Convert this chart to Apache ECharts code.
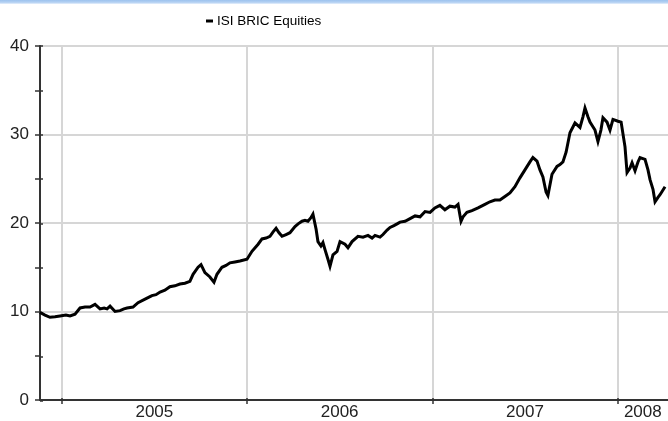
<!DOCTYPE html>
<html>
<head>
<meta charset="utf-8">
<script src="https://cdn.jsdelivr.net/npm/echarts@6/dist/echarts.min.js"></script>
<style>
html,body{margin:0;padding:0;background:#fff;}
#chart{width:668px;height:421px;}
</style>
</head>
<body>
<div id="chart"></div>
<script>
// Data (x in decimal years)
var seriesName = 'ISI BRIC Equities';
var dates = [
2004.883,2004.910,2004.937,2004.964,2004.991,2005.023,2005.045,2005.072,2005.099,2005.126,
2005.153,2005.180,2005.207,2005.229,2005.245,2005.261,2005.288,2005.315,2005.336,2005.353,
2005.385,2005.412,2005.450,2005.487,2005.509,2005.531,2005.557,2005.584,2005.611,2005.638,
2005.665,2005.692,2005.709,2005.736,2005.752,2005.773,2005.800,2005.822,2005.838,2005.865,
2005.887,2005.908,2005.935,2005.962,2006.000,2006.027,2006.060,2006.081,2006.103,2006.124,
2006.141,2006.157,2006.173,2006.189,2006.211,2006.232,2006.259,2006.276,2006.297,2006.313,
2006.329,2006.345,2006.356,2006.373,2006.383,2006.399,2006.410,2006.421,2006.437,2006.448,
2006.464,2006.486,2006.502,2006.529,2006.545,2006.567,2006.599,2006.626,2006.653,2006.675,
2006.691,2006.718,2006.734,2006.756,2006.772,2006.793,2006.810,2006.826,2006.853,2006.880,
2006.907,2006.934,2006.961,2006.988,2007.014,2007.041,2007.068,2007.095,2007.122,2007.139,
2007.155,2007.166,2007.187,2007.214,2007.247,2007.284,2007.311,2007.338,2007.365,2007.392,
2007.419,2007.446,2007.473,2007.500,2007.527,2007.543,2007.565,2007.581,2007.597,2007.614,
2007.624,2007.646,2007.673,2007.689,2007.705,2007.722,2007.743,2007.770,2007.797,2007.813,
2007.824,2007.840,2007.851,2007.878,2007.894,2007.910,2007.921,2007.943,2007.959,2007.975,
2008.002,2008.019,2008.029,2008.040,2008.051,2008.067,2008.078,2008.094,2008.110,2008.121,
2008.148,2008.164,2008.175,2008.191,2008.202,2008.218,2008.229,2008.256
];
var values = [
9.9,9.6,9.35,9.4,9.5,9.6,9.5,9.7,10.4,10.5,
10.5,10.8,10.3,10.4,10.3,10.6,10.0,10.1,10.3,10.4,
10.5,11.0,11.4,11.8,11.9,12.2,12.4,12.8,12.9,13.1,
13.2,13.4,14.2,15.0,15.3,14.4,13.9,13.3,14.2,15.0,
15.2,15.5,15.6,15.7,15.9,16.8,17.6,18.2,18.3,18.5,
19.0,19.4,18.9,18.5,18.7,18.9,19.6,19.9,20.2,20.3,
20.2,20.6,21.0,19.3,17.9,17.4,17.8,17.0,15.9,15.1,
16.4,16.8,17.9,17.6,17.2,17.9,18.5,18.4,18.6,18.3,
18.6,18.4,18.7,19.2,19.5,19.7,19.9,20.1,20.2,20.5,
20.8,20.7,21.3,21.2,21.7,22.0,21.5,21.9,21.8,22.1,
20.2,20.7,21.2,21.4,21.7,22.1,22.4,22.6,22.6,23.0,
23.4,24.1,25.1,26.0,26.9,27.4,27.0,26.0,25.2,23.5,
23.1,25.5,26.4,26.6,26.9,28.0,30.2,31.3,30.8,32.0,
33.0,32.0,31.4,30.5,29.2,30.5,31.9,31.4,30.5,31.7,
31.5,31.4,31.3,28.6,25.7,26.2,26.8,25.9,26.9,27.4,
27.2,26.0,24.9,23.8,22.4,22.9,23.2,24.1
];
var xMin = 2004.883, xMax = 2008.272;
var yearTicks = [2005, 2006, 2007, 2008];
var yearLabelPos = [2005.5, 2006.5, 2007.5, 2008.136];
var yMin = 0, yMax = 40, yStep = 10;

var pts = dates.map(function (d, i) { return [d, values[i]]; });
var font = 'Liberation Sans, Arial, sans-serif';
var axisColor = '#333';
var gridColor = '#d6d6d6';
var gridBox = {left: 40, right: 0, top: 46, bottom: 20, containLabel: false};

var chart = echarts.init(document.getElementById('chart'), null, {renderer: 'canvas'});
chart.setOption({
  animation: false,
  backgroundColor: '#fff',
  graphic: [{
    type: 'rect', left: 0, top: 0, shape: {width: 668, height: 4}, silent: true,
    style: {fill: new echarts.graphic.LinearGradient(0, 0, 0, 1, [
      {offset: 0, color: '#9cc2ee'}, {offset: 0.6, color: '#b6d2f3'}, {offset: 1, color: '#e8f1fc'}])}
  }],
  legend: {
    left: 206, top: 14, itemWidth: 7, itemHeight: 3, itemGap: 5, padding: 0,
    icon: 'rect',
    textStyle: {fontFamily: font, fontSize: 13.5, color: '#000', padding: [0, 0, 0, -1]},
    data: [seriesName]
  },
  grid: [gridBox, gridBox],
  xAxis: [{
    gridIndex: 0, type: 'value', min: xMin, max: xMax,
    axisLine: {show: true, lineStyle: {color: axisColor, width: 2}},
    axisTick: {show: true, inside: false, length: 4, customValues: yearTicks, lineStyle: {color: axisColor, width: 1.5}},
    axisLabel: {show: true, customValues: yearLabelPos, margin: 4, fontFamily: font, fontSize: 17, color: '#222',
      formatter: function (v) { return String(Math.floor(v)); }},
    splitLine: {show: true, lineStyle: {color: gridColor, width: 2}}
  }, {
    gridIndex: 1, type: 'value', min: xMin, max: xMax,
    axisLine: {show: false},
    axisTick: {show: true, inside: true, length: 3, customValues: yearTicks, lineStyle: {color: axisColor, width: 1.5}},
    axisLabel: {show: false},
    splitLine: {show: false}
  }],
  yAxis: [{
    gridIndex: 0, type: 'value', min: yMin, max: yMax, interval: yStep,
    axisLine: {show: true, lineStyle: {color: axisColor, width: 2}},
    axisTick: {show: true, inside: false, length: 5, lineStyle: {color: axisColor, width: 1.5}},
    minorTick: {show: true, splitNumber: 2, length: 5, lineStyle: {color: axisColor, width: 1.5}},
    axisLabel: {margin: 11, fontFamily: font, fontSize: 17, color: '#222'},
    splitLine: {show: true, lineStyle: {color: gridColor, width: 2}}
  }, {
    gridIndex: 1, type: 'value', min: yMin, max: yMax, interval: yStep,
    axisLine: {show: false},
    axisTick: {show: true, inside: true, length: 3, lineStyle: {color: axisColor, width: 1.5}},
    minorTick: {show: true, splitNumber: 2, length: 3, lineStyle: {color: axisColor, width: 1.5}},
    axisLabel: {show: false},
    splitLine: {show: false}
  }],
  series: [{
    name: seriesName, type: 'line', xAxisIndex: 0, yAxisIndex: 0,
    data: pts, showSymbol: false, symbol: 'none',
    lineStyle: {color: '#000', width: 3, join: 'miter'}, itemStyle: {color: '#000'}
  }]
});
</script>
</body>
</html>
